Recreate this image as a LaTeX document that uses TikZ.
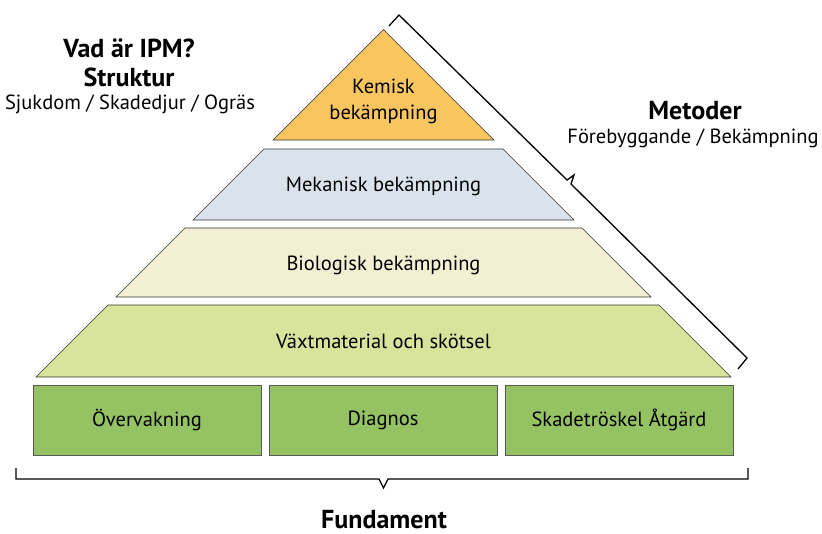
\documentclass[tikz,border=0pt]{standalone}
\usepackage{fontspec}
\setmainfont{PT Sans}
\usepackage{xcolor}
\usepackage{tikz}

\definecolor{kemorange}{RGB}{249,197,94}
\definecolor{mekblue}{RGB}{218,227,236}
\definecolor{biocream}{RGB}{243,239,211}
\definecolor{vaxtgreen}{RGB}{216,228,155}
\definecolor{basegreen}{RGB}{149,195,99}

\begin{document}
\begin{tikzpicture}[
	x=1pt, y=-1pt,
	layer/.style={draw=black!80, line width=0.6pt},
	greenbox/.style={shape=rectangle, fill=basegreen, draw=black!65, line width=0.7pt, minimum width=228pt, minimum height=70pt, font=\fontsize{20.5}{26}\selectfont},
	txt/.style={font=\fontsize{20.5}{26}\selectfont, align=center},
	headtxt/.style={font=\fontsize{26}{29}\selectfont\bfseries, align=center},
	bracket/.style={line width=1.3pt},
]
\useasboundingbox (0,0) rectangle (822,534);

\draw[layer, fill=kemorange] (383.5,29.5) -- (494,140) -- (273,140) -- cycle;
\node[txt] (kemisk) at (383.5,101) {Kemisk\\bekämpning};
\draw[layer, fill=mekblue] (264,149) -- (503,149) -- (574,220) -- (193,220) -- cycle;
\node[txt] (mekanisk) at (383.5,186) {Mekanisk bekämpning};
\draw[layer, fill=biocream] (185,228) -- (582,228) -- (651,297) -- (116,297) -- cycle;
\node[txt] (biologisk) at (383.5,265) {Biologisk bekämpning};
\draw[layer, fill=vaxtgreen] (108,305) -- (659,305) -- (731,377) -- (36,377) -- cycle;
\node[txt] (vaxt) at (383.5,341) {Växtmaterial och skötsel};

\node[greenbox] (overvakning) at (147,420) {Övervakning};
\node[greenbox] (diagnos) at (383,420) {Diagnos};
\node[greenbox] (skadetroskel) at (619,420) {Skadetröskel Åtgärd};

\node[headtxt] (ipm) at (129,63) {Vad är IPM?\\Struktur};
\node[txt] (struktur) at (130,104) {Sjukdom / Skadedjur / Ogräs};
\node[headtxt] (metoder) at (695,111) {Metoder};
\node[txt] (metodtyper) at (693,138) {Förebyggande / Bekämpning};
\node[headtxt, anchor=base, inner sep=0pt] (fundament) at (384,528) {Fundament};

\coordinate (rtop) at (389,26);
\coordinate (rbot) at (738,369);
\coordinate (btleft) at (16,468);
\coordinate (btright) at (748,468);
\draw[bracket] (rtop) -- (399,15) -- (567,180) -- (574,175) -- (571,184) -- (747,358) -- (rbot);
\draw[bracket] (btleft) -- (16,479) -- (379,479) -- (383.5,488) -- (388,479) -- (748,479) -- (btright);
\end{tikzpicture}
\end{document}
